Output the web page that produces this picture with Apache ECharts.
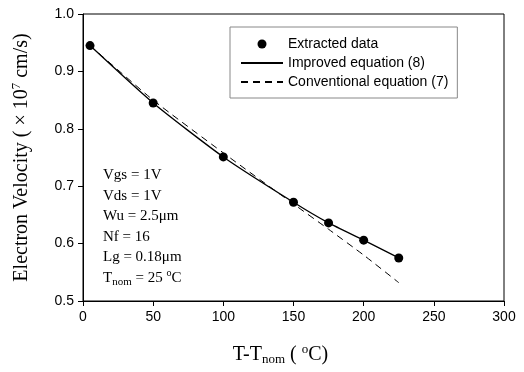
<!DOCTYPE html>
<html>
<head>
<meta charset="utf-8">
<script src="https://cdn.jsdelivr.net/npm/echarts@6/dist/echarts.min.js"></script>
<style>
  html, body { margin: 0; padding: 0; background: #fff; }
  #chart { width: 524px; height: 372px; }
</style>
</head>
<body>
<div id="chart"></div>
<script>
// values
const temps = [5, 50, 100, 150, 175, 200, 225];
const extracted = [0.945, 0.845, 0.751, 0.672, 0.636, 0.606, 0.575];
const improved = [0.945, 0.845, 0.751, 0.672, 0.636, 0.606, 0.575];
const conventional = [0.945, 0.850, 0.758, 0.669, 0.625, 0.580, 0.532];
const xTicks = [0, 50, 100, 150, 200, 250, 300];
const yTicks = [0.5, 0.6, 0.7, 0.8, 0.9, 1.0];
const legendNames = ['Extracted data', 'Improved equation (8)', 'Conventional equation (7)'];
const notes = ['Vgs = 1V', 'Vds = 1V', 'Wu = 2.5μm', 'Nf = 16', 'Lg = 0.18μm', 'T{sub|nom} = 25 {sup|o}C'];

const pairs = (ys) => temps.map((t, i) => [t, ys[i]]);

const sans = 'Liberation Sans, Arial, sans-serif';
const serif = 'Liberation Serif, Times New Roman, serif';

const chart = echarts.init(document.getElementById('chart'));

const option = {
    animation: false,
    grid: {
        left: 83,
        right: 20,
        top: 14,
        bottom: 71,
        show: true,
        borderColor: '#000',
        borderWidth: 1
    },
    legend: {
        data: [
            { name: legendNames[0] },
            // line items: hide the marker, keep only the stroke
            { name: legendNames[1], itemStyle: { opacity: 0 } },
            { name: legendNames[2], itemStyle: { opacity: 0 } }
        ],
        orient: 'vertical',
        left: 230,
        top: 27,
        width: 254,
        padding: [10, 9, 9, 10],
        itemWidth: 42,
        itemHeight: 9,
        itemGap: 5,
        itemTextGap: 8,
        borderColor: '#888',
        borderWidth: 1,
        textStyle: { fontFamily: sans, fontSize: 14, color: '#000' }
    },
    xAxis: {
        type: 'value',
        min: xTicks[0],
        max: xTicks[xTicks.length - 1],
        interval: 50,
        name: 'T-T{sub|nom} ( {sup|o}C)',
        nameLocation: 'middle',
        nameGap: 42,
        nameTextStyle: {
            fontFamily: serif,
            fontSize: 20,
            color: '#000',
            padding: [0, 26, 0, 0],
            rich: {
                sub: { fontFamily: serif, fontSize: 13, color: '#000', padding: [10, 0, 0, 0] },
                sup: { fontFamily: serif, fontSize: 13, color: '#000', padding: [0, 0, 10, 0] }
            }
        },
        axisLine: { lineStyle: { color: '#000', width: 1 } },
        axisTick: { show: true, inside: false, length: 5, lineStyle: { color: '#000' } },
        axisLabel: { fontFamily: sans, fontSize: 14, color: '#000', margin: 9 },
        splitLine: { show: false }
    },
    yAxis: {
        type: 'value',
        min: yTicks[0],
        max: yTicks[yTicks.length - 1],
        interval: 0.1,
        name: 'Electron Velocity ( × 10{sup|7} cm/s)',
        nameLocation: 'middle',
        nameGap: 50,
        nameTextStyle: {
            fontFamily: serif,
            fontSize: 20,
            color: '#000',
            rich: {
                sup: { fontFamily: serif, fontSize: 13, color: '#000', padding: [0, 0, 10, 0] }
            }
        },
        axisLine: { show: true, lineStyle: { color: '#000', width: 1 } },
        axisTick: { show: true, inside: false, length: 5, lineStyle: { color: '#000' } },
        axisLabel: {
            fontFamily: sans,
            fontSize: 14,
            color: '#000',
            margin: 9,
            formatter: (v) => v.toFixed(1)
        },
        splitLine: { show: false }
    },
    graphic: [
        {
            type: 'text',
            left: 103,
            top: 165,
            style: {
                text: notes.join('\n'),
                font: '15px ' + serif,
                fill: '#000',
                lineHeight: 20.5,
                rich: {
                    sub: { fontFamily: serif, fontSize: 11, fill: '#000', padding: [8, 0, 0, 0] },
                    sup: { fontFamily: serif, fontSize: 10, fill: '#000', padding: [0, 0, 8, 0] }
                }
            }
        }
    ],
    series: [
        {
            name: legendNames[1],
            type: 'line',
            data: pairs(improved),
            symbol: 'none',
            smooth: 0.2,
            lineStyle: { color: '#000', width: 1.3 },
            itemStyle: { color: '#000' },
            z: 2
        },
        {
            name: legendNames[2],
            type: 'line',
            data: pairs(conventional),
            symbol: 'none',
            smooth: 0.2,
            lineStyle: { color: '#000', width: 1, type: [7, 5] },
            itemStyle: { color: '#000' },
            z: 2
        },
        {
            name: legendNames[0],
            type: 'scatter',
            data: pairs(extracted),
            symbol: 'circle',
            symbolSize: 9,
            itemStyle: { color: '#000', opacity: 1 },
            z: 3
        }
    ]
};

chart.setOption(option);
</script>
</body>
</html>
